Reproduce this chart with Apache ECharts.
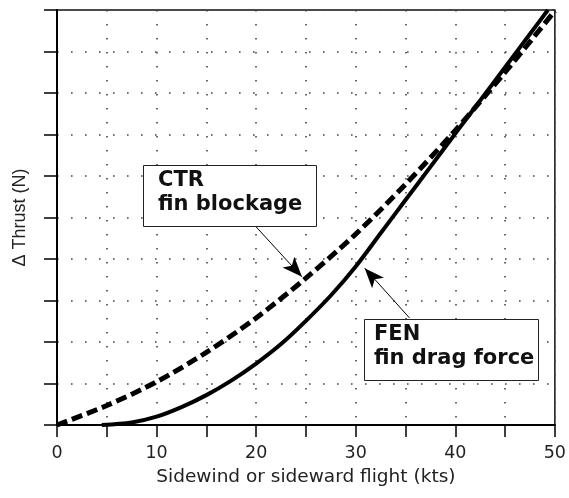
<!DOCTYPE html>
<html>
<head>
<meta charset="utf-8">
<script src="https://cdn.jsdelivr.net/npm/echarts@6/dist/echarts.min.js"></script>
<style>html,body{margin:0;padding:0;background:#fff}#c{width:569px;height:498px}</style>
</head>
<body>
<div id="c"></div>
<script>
// CTR fin blockage (dashed)
var ctrSpeed  = [0, 5, 10, 15, 20, 25, 30, 35, 40, 45, 50];
var ctrThrust = [0, 0.47, 1.04, 1.75, 2.58, 3.54, 4.60, 5.80, 7.10, 8.50, 9.98];
// FEN fin drag force (solid)
var fenSpeed  = [4.5, 7.5, 10, 12.5, 15, 17.5, 20, 22.5, 25, 27.5, 30, 32.5, 35, 37.5, 40, 42.5, 45, 47.5, 49.3];
var fenThrust = [0, 0.06, 0.20, 0.43, 0.72, 1.07, 1.48, 1.95, 2.51, 3.12, 3.82, 4.62, 5.42, 6.22, 7.02, 7.82, 8.62, 9.42, 10];
// x tick labels (every 10), ticks every 5
var xLabels = [0, 10, 20, 30, 40, 50];
// annotation arrows in data coords: [from, to]
var ctrArrow = [[19.9, 4.8], [24.6, 3.57]];
var fenArrow = [[35.4, 2.58], [30.9, 3.78]];

function pairs(xs, ys){ return xs.map(function(x,i){ return [x, ys[i]]; }); }

var chart = echarts.init(document.getElementById('c'), null, {renderer:'canvas'});
var gridDot = {color:'#444', width:1.6, type:[1.6, 12.4]};
function arrowLine(a){
  return {
    silent:true, animation:false,
    symbol:['none','arrow'], symbolSize:[12,20],
    label:{show:false},
    lineStyle:{color:'#000', width:1, type:'solid'},
    data:[[{coord:a[0]},{coord:a[1]}]]
  };
}
chart.setOption({
  animation:false,
  backgroundColor:'#fff',
  grid:{left:57, right:13, top:10, bottom:73, show:true, borderColor:'#111', borderWidth:1.5, backgroundColor:'transparent'},
  xAxis:{
    type:'value', min:0, max:50, interval:5,
    name:'Sidewind or sideward flight (kts)', nameLocation:'middle', nameGap:43,
    nameTextStyle:{fontFamily:'DejaVu Sans', fontSize:18.5, color:'#222'},
    axisLine:{show:true, onZero:false, lineStyle:{color:'#000', width:2}},
    axisTick:{show:true, inside:false, length:12, lineStyle:{color:'#000', width:1.5}},
    axisLabel:{margin:19, fontFamily:'DejaVu Sans', fontSize:17.5, color:'#222',
      formatter:function(v){ return xLabels.indexOf(v) >= 0 ? String(v) : ''; }},
    splitLine:{show:true, lineStyle:gridDot}
  },
  yAxis:{
    type:'value', min:0, max:10, interval:1,
    name:'\u0394 Thrust (N)', nameLocation:'middle', nameGap:28, nameRotate:90,
    nameTextStyle:{fontFamily:'Liberation Sans', fontSize:18, color:'#222'},
    axisLine:{show:true, onZero:false, lineStyle:{color:'#000', width:2}},
    axisTick:{show:true, inside:false, length:13, lineStyle:{color:'#000', width:1.5}},
    axisLabel:{show:false},
    splitLine:{show:true, lineStyle:gridDot}
  },
  series:[
    {
      name:'CTR fin blockage', type:'line', data:pairs(ctrSpeed, ctrThrust),
      smooth:0.3, showSymbol:false, symbol:'none', clip:false,
      lineStyle:{color:'#000', width:5, type:[11,5], cap:'butt'},
      markLine:arrowLine(ctrArrow), z:3
    },
    {
      name:'FEN fin drag force', type:'line', data:pairs(fenSpeed, fenThrust),
      smooth:0.3, showSymbol:false, symbol:'none', clip:false,
      lineStyle:{color:'#000', width:4},
      markLine:arrowLine(fenArrow), z:3
    }
  ],
  graphic:[
    {type:'rect', z:100, shape:{x:143.5, y:165.5, width:173, height:61},
      style:{fill:'#fff', stroke:'#222', lineWidth:1}},
    {type:'text', z:101, x:158, y:170, style:{text:'CTR', font:'bold 21px "DejaVu Sans"', fill:'#111'}},
    {type:'text', z:101, x:158, y:194, style:{text:'fin blockage', font:'bold 21px "DejaVu Sans"', fill:'#111'}},
    {type:'rect', z:100, shape:{x:364.5, y:319.5, width:174, height:61},
      style:{fill:'#fff', stroke:'#222', lineWidth:1}},
    {type:'text', z:101, x:374, y:324, style:{text:'FEN', font:'bold 21px "DejaVu Sans"', fill:'#111'}},
    {type:'text', z:101, x:374, y:348, style:{text:'fin drag force', font:'bold 21px "DejaVu Sans"', fill:'#111'}}
  ]
});
</script>
</body>
</html>
